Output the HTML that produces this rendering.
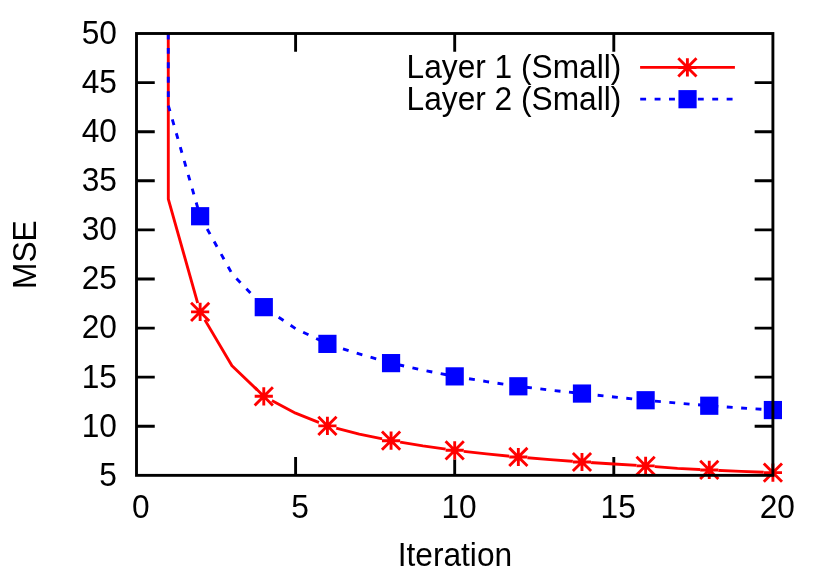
<!DOCTYPE html>
<html><head><meta charset="utf-8"><title>MSE vs Iteration</title>
<style>html,body{margin:0;padding:0;background:#fff}svg{display:block;will-change:transform}text{font-family:"Liberation Sans",sans-serif;font-size:32px;fill:#000}</style>
</head><body>
<svg width="830" height="577" viewBox="0 0 830 577">
<rect width="830" height="577" fill="#fff"/>
<g stroke="#000" stroke-width="2.88" fill="none">
<path d="M136.50 426.26h18.25M772.90 426.26h-18.25"/>
<path d="M136.50 377.16h18.25M772.90 377.16h-18.25"/>
<path d="M136.50 328.07h18.25M772.90 328.07h-18.25"/>
<path d="M136.50 278.97h18.25M772.90 278.97h-18.25"/>
<path d="M136.50 229.88h18.25M772.90 229.88h-18.25"/>
<path d="M136.50 180.78h18.25M772.90 180.78h-18.25"/>
<path d="M136.50 131.69h18.25M772.90 131.69h-18.25"/>
<path d="M136.50 82.59h18.25M772.90 82.59h-18.25"/>
<path d="M295.60 475.35v-18.25M295.60 33.50v18.25"/>
<path d="M454.70 475.35v-18.25M454.70 33.50v18.25"/>
<path d="M613.80 475.35v-18.25M613.80 33.50v18.25"/>
</g>
<text transform="translate(116.90 485.75) scale(0.990 1.020)" text-anchor="end">5</text>
<text transform="translate(116.90 436.66) scale(0.990 1.020)" text-anchor="end">10</text>
<text transform="translate(116.90 387.56) scale(0.990 1.020)" text-anchor="end">15</text>
<text transform="translate(116.90 338.47) scale(0.990 1.020)" text-anchor="end">20</text>
<text transform="translate(116.90 289.37) scale(0.990 1.020)" text-anchor="end">25</text>
<text transform="translate(116.90 240.28) scale(0.990 1.020)" text-anchor="end">30</text>
<text transform="translate(116.90 191.18) scale(0.990 1.020)" text-anchor="end">35</text>
<text transform="translate(116.90 142.09) scale(0.990 1.020)" text-anchor="end">40</text>
<text transform="translate(116.90 92.99) scale(0.990 1.020)" text-anchor="end">45</text>
<text transform="translate(116.90 43.90) scale(0.990 1.020)" text-anchor="end">50</text>
<text transform="translate(140.90 517.90) scale(0.990 1.020)" text-anchor="middle">0</text>
<text transform="translate(300.00 517.90) scale(0.990 1.020)" text-anchor="middle">5</text>
<text transform="translate(459.10 517.90) scale(0.990 1.020)" text-anchor="middle">10</text>
<text transform="translate(618.20 517.90) scale(0.990 1.020)" text-anchor="middle">15</text>
<text transform="translate(777.30 517.90) scale(0.990 1.020)" text-anchor="middle">20</text>
<text transform="translate(454.90 565.70) scale(0.990 1.020)" text-anchor="middle">Iteration</text>
<text transform="translate(35.60 254.60) rotate(-90) scale(0.990 1.020)" text-anchor="middle">MSE</text>
<text transform="translate(621.30 77.70) scale(0.990 1.020)" text-anchor="end">Layer 1 (Small)</text>
<text transform="translate(621.30 110.30) scale(0.990 1.020)" text-anchor="end">Layer 2 (Small)</text>
<g stroke="#f00" stroke-width="2.88" fill="none" stroke-linejoin="round">
<path d="M168.27 33.50 L168.32 199.05 L200.14 311.87 L231.96 365.77 L263.78 396.31 L295.60 413.20 L327.42 425.86 L359.24 434.21 L391.06 440.69 L422.88 445.89 L454.70 450.31 L486.52 453.94 L518.34 456.99 L550.16 459.64 L581.98 462.00 L613.80 464.06 L645.62 465.92 L677.44 468.38 L709.26 469.95 L741.08 471.32 L772.90 472.60"/>
<path d="M640.1 67.4H734.9"/>
</g>
<g fill="#fff" stroke="none">
<circle cx="200.14" cy="311.87" r="9.3"/>
<circle cx="263.78" cy="396.31" r="9.3"/>
<circle cx="327.42" cy="425.86" r="9.3"/>
<circle cx="391.06" cy="440.69" r="9.3"/>
<circle cx="454.70" cy="450.31" r="9.3"/>
<circle cx="518.34" cy="456.99" r="9.3"/>
<circle cx="581.98" cy="462.00" r="9.3"/>
<circle cx="645.62" cy="465.92" r="9.3"/>
<circle cx="709.26" cy="469.95" r="9.3"/>
<circle cx="772.90" cy="472.60" r="9.3"/>
</g>
<g stroke="#f00" stroke-width="2.88" fill="none">
<path d="M191.04 311.87H209.24M200.14 302.77V320.97M191.04 302.77L209.24 320.97M191.04 320.97L209.24 302.77"/>
<path d="M254.68 396.31H272.88M263.78 387.21V405.41M254.68 387.21L272.88 405.41M254.68 405.41L272.88 387.21"/>
<path d="M318.32 425.86H336.52M327.42 416.76V434.96M318.32 416.76L336.52 434.96M318.32 434.96L336.52 416.76"/>
<path d="M381.96 440.69H400.16M391.06 431.59V449.79M381.96 431.59L400.16 449.79M381.96 449.79L400.16 431.59"/>
<path d="M445.60 450.31H463.80M454.70 441.21V459.41M445.60 441.21L463.80 459.41M445.60 459.41L463.80 441.21"/>
<path d="M509.24 456.99H527.44M518.34 447.89V466.09M509.24 447.89L527.44 466.09M509.24 466.09L527.44 447.89"/>
<path d="M572.88 462.00H591.08M581.98 452.90V471.10M572.88 452.90L591.08 471.10M572.88 471.10L591.08 452.90"/>
<path d="M636.52 465.92H654.72M645.62 456.82V475.02M636.52 456.82L654.72 475.02M636.52 475.02L654.72 456.82"/>
<path d="M700.16 469.95H718.36M709.26 460.85V479.05M700.16 460.85L718.36 479.05M700.16 479.05L718.36 460.85"/>
<path d="M763.80 472.60H782.00M772.90 463.50V481.70M763.80 463.50L782.00 481.70M763.80 481.70L782.00 463.50"/>
<path d="M678.30 67.45H696.50M687.40 58.35V76.55M678.30 58.35L696.50 76.55M678.30 76.55L696.50 58.35"/>
</g>
<g stroke="#00f" stroke-width="2.88" fill="none" stroke-dasharray="5.9 8.51" stroke-linejoin="round">
<path d="M168.27 33.50 L168.32 105.47 L200.14 216.23 L231.96 273.67 L263.78 307.15 L295.60 328.66 L327.42 343.88 L359.24 353.99 L391.06 363.12 L422.88 370.19 L454.70 376.38 L486.52 381.58 L518.34 386.29 L550.16 390.12 L581.98 393.56 L613.80 397.00 L645.62 400.24 L677.44 403.08 L709.26 405.73 L741.08 407.99 L772.90 410.05"/>
<path d="M640.2 99.15H734.9"/>
</g>
<g fill="#00f" stroke="none">
<rect x="191.04" y="207.13" width="18.20" height="18.20"/>
<rect x="254.68" y="298.05" width="18.20" height="18.20"/>
<rect x="318.32" y="334.78" width="18.20" height="18.20"/>
<rect x="381.96" y="354.02" width="18.20" height="18.20"/>
<rect x="445.60" y="367.28" width="18.20" height="18.20"/>
<rect x="509.24" y="377.19" width="18.20" height="18.20"/>
<rect x="572.88" y="384.46" width="18.20" height="18.20"/>
<rect x="636.52" y="391.14" width="18.20" height="18.20"/>
<rect x="700.16" y="396.63" width="18.20" height="18.20"/>
<rect x="763.80" y="400.95" width="18.20" height="18.20"/>
<rect x="678.45" y="90.10" width="18.20" height="18.20"/>
</g>
<rect x="136.50" y="33.50" width="636.40" height="441.85" fill="none" stroke="#000" stroke-width="2.88"/>
</svg></body></html>
